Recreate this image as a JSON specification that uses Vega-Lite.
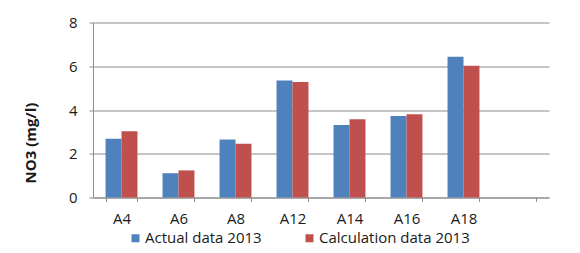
{
  "$schema": "https://vega.github.io/schema/vega-lite/v6.json",
  "autosize": {"type": "none"},
  "padding": {"left": 93, "top": 22.5, "right": 31, "bottom": 55.5},
  "width": 456,
  "height": 175,
  "background": "white",
  "data": {
    "values": [
      {"site": "A4", "series": "Actual data 2013", "no3": 2.69},
      {"site": "A4", "series": "Calculation data 2013", "no3": 3.03},
      {"site": "A6", "series": "Actual data 2013", "no3": 1.11},
      {"site": "A6", "series": "Calculation data 2013", "no3": 1.24},
      {"site": "A8", "series": "Actual data 2013", "no3": 2.65},
      {"site": "A8", "series": "Calculation data 2013", "no3": 2.46},
      {"site": "A12", "series": "Actual data 2013", "no3": 5.35},
      {"site": "A12", "series": "Calculation data 2013", "no3": 5.28},
      {"site": "A14", "series": "Actual data 2013", "no3": 3.32},
      {"site": "A14", "series": "Calculation data 2013", "no3": 3.58},
      {"site": "A16", "series": "Actual data 2013", "no3": 3.73},
      {"site": "A16", "series": "Calculation data 2013", "no3": 3.81},
      {"site": "A18", "series": "Actual data 2013", "no3": 6.44},
      {"site": "A18", "series": "Calculation data 2013", "no3": 6.02}
    ]
  },
  "mark": {"type": "bar"},
  "encoding": {
    "x": {
      "field": "site",
      "type": "nominal",
      "scale": {
        "domain": ["A4", "A6", "A8", "A12", "A14", "A16", "A18", " "],
        "paddingInner": 0.44,
        "paddingOuter": 0.22
      },
      "axis": {
        "title": null,
        "labelAngle": 0,
        "tickBand": "extent",
        "grid": false,
        "tickSize": 4,
        "labelPadding": 10,
        "labelFont": "Open Sans",
        "labelFontSize": 15,
        "labelColor": "#1a1a1a",
        "domainColor": "#8c8c8c",
        "tickColor": "#8c8c8c"
      }
    },
    "xOffset": {
      "field": "series",
      "type": "nominal",
      "scale": {"domain": ["Actual data 2013", "Calculation data 2013"], "paddingInner": 0, "paddingOuter": 0}
    },
    "y": {
      "field": "no3",
      "type": "quantitative",
      "scale": {"domain": [0, 8], "nice": false},
      "axis": {
        "title": "NO3 (mg/l)",
        "values": [0, 2, 4, 6, 8],
        "grid": true,
        "gridColor": "#8c8c8c",
        "domainColor": "#8c8c8c",
        "tickColor": "#8c8c8c",
        "tickSize": 4,
        "labelPadding": 12,
        "labelFont": "Open Sans",
        "labelFontSize": 15,
        "labelColor": "#1a1a1a",
        "titleFont": "Open Sans",
        "titleFontSize": 15,
        "titleFontWeight": "bold",
        "titleColor": "#1a1a1a",
        "titleX": -63,
        "titleY": 120,
        "titleBaseline": "middle",
        "titleAlign": "center"
      }
    },
    "color": {
      "field": "series",
      "type": "nominal",
      "scale": {"domain": ["Actual data 2013", "Calculation data 2013"], "range": ["#4F81BD", "#C0504D"]},
      "legend": {
        "title": null,
        "orient": "none",
        "direction": "horizontal",
        "legendX": 35,
        "legendY": 208,
        "symbolType": "square",
        "symbolSize": 64,
        "symbolStrokeWidth": 0,
        "labelFont": "Open Sans",
        "labelFontSize": 15,
        "labelColor": "#1a1a1a",
        "labelOffset": 2,
        "columnPadding": 40,
        "padding": 0
      }
    }
  },
  "config": {"view": {"stroke": null}}
}
